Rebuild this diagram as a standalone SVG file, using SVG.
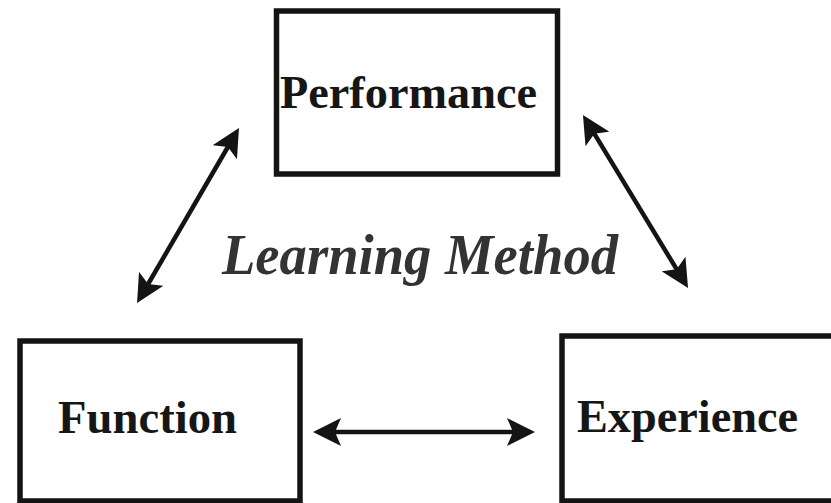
<svg xmlns="http://www.w3.org/2000/svg" width="831" height="503" viewBox="0 0 831 503">
  <defs>
    <style>
      .box { fill: #ffffff; stroke: #141414; stroke-width: 5.5; }
      .label { font-family: "Liberation Serif", "Times New Roman", serif; font-weight: bold; font-size: 46px; fill: #161616; }
      .title { font-family: "Liberation Serif", "Times New Roman", serif; font-weight: bold; font-style: italic; font-size: 57px; fill: #333336; }
      .link { stroke: #141414; stroke-width: 4.5; fill: none; marker-start: url(#head); marker-end: url(#head); }
    </style>
    <!-- barbed double-arrow head; tip sits 18px beyond the line end -->
    <marker id="head" markerUnits="userSpaceOnUse" viewBox="0 0 28 28" markerWidth="28" markerHeight="28" refX="10" refY="14" orient="auto-start-reverse">
      <path d="M0,0 L28,14 L0,28 L6,14 Z" fill="#141414"/>
    </marker>
  </defs>

  <rect width="831" height="503" fill="#ffffff"/>

  <g id="performance">
    <rect class="box" x="276.5" y="11" width="281" height="163"/>
    <text class="label" x="280" y="108" textLength="257" lengthAdjust="spacingAndGlyphs">Performance</text>
  </g>

  <g id="function">
    <rect class="box" x="20" y="341" width="280" height="160"/>
    <text class="label" x="58" y="433" textLength="179" lengthAdjust="spacingAndGlyphs">Function</text>
  </g>

  <g id="experience">
    <rect class="box" x="562" y="336" width="280" height="165"/>
    <text class="label" x="577" y="432" textLength="221" lengthAdjust="spacingAndGlyphs">Experience</text>
  </g>

  <g id="center-label">
    <text class="title" x="222" y="274" textLength="396" lengthAdjust="spacingAndGlyphs">Learning Method</text>
  </g>

  <g id="connectors">
    <line class="link" x1="146.1" y1="287.5" x2="229.9" y2="143.5"/>
    <line class="link" x1="592.3" y1="130.4" x2="678.7" y2="272.6"/>
    <line class="link" x1="331" y1="432" x2="517" y2="432"/>
  </g>
</svg>
